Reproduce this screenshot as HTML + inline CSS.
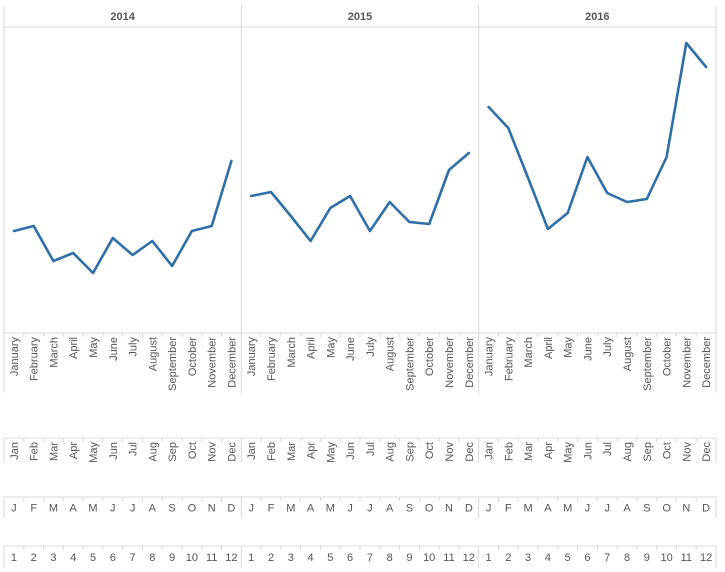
<!DOCTYPE html>
<html><head><meta charset="utf-8"><style>
html,body{margin:0;padding:0;background:#fff;}
svg{display:block;font-family:"Liberation Sans",Arial,sans-serif;}
</style></head><body>
<svg id="c" width="725" height="572"></svg>
<script>
const years = ["2014","2015","2016"];
const monthsLong = ["January","February","March","April","May","June","July","August","September","October","November","December"];
const monthsShort = ["Jan","Feb","Mar","Apr","May","Jun","Jul","Aug","Sep","Oct","Nov","Dec"];
const monthsLetter = ["J","F","M","A","M","J","J","A","S","O","N","D"];
const monthsNum = ["1","2","3","4","5","6","7","8","9","10","11","12"];
const values2014 = [102,107,72,80,60,95,78,92,67,102,107,172];
const values2015 = [137,141,117,92,125,137,102,131,111,109,163,180];
const values2016 = [226,205,155,104,120,176,140,131,134,176,290,266];
const seriesValues = [values2014, values2015, values2016];

const NS="http://www.w3.org/2000/svg";
const svg=document.getElementById('c');
function mk(tag,attrs,parent){const e=document.createElementNS(NS,tag);for(const k in attrs)e.setAttribute(k,attrs[k]);(parent||svg).appendChild(e);return e;}
const left=4,right=716,panelW=(right-left)/3,slot=panelW/12;
const plotTop=27,plotBot=333,yMax=306;
function xPos(p,i){return left+p*panelW+slot*(i+0.5);}
function yPos(v){return plotBot-(v/yMax)*(plotBot-plotTop);}
const grid="#d9d9d9";

// header line
let l=mk('line',{x1:left,x2:right,y1:27,y2:27,stroke:grid});

// panel borders
for(let p=0;p<=3;p++){
  const x=left+p*panelW;
  const b=mk('line',{x1:x,x2:x,y1:5,y2:333,stroke:grid});
  
  
}
years.forEach((yr,p)=>{
  const t=mk('text',{x:left+p*panelW+panelW/2,y:20,'text-anchor':'middle','font-size':11,'font-weight':'bold',fill:'#555'});
  t.textContent=yr;
  
  
  const pts=seriesValues[p].map((v,i)=>xPos(p,i).toFixed(1)+','+yPos(v).toFixed(1)).join(' ');
  const pl=mk('polyline',{points:pts,fill:'none',stroke:'#2f6fa8','stroke-width':2.6,'stroke-linejoin':'round','stroke-linecap':'round'});
  
  
});

// label rows
const rows=[
  {labels:monthsLong,top:333,bot:393,rot:true,name:'month-full-row'},
  {labels:monthsShort,top:438,bot:463,rot:true,name:'month-abbr-row'},
  {labels:monthsLetter,top:497,bot:518,rot:false,name:'month-letter-row'},
  {labels:monthsNum,top:546,bot:568,rot:false,name:'month-number-row'}
];
rows.forEach(r=>{
  const g=mk('g',{});
  
  
  mk('line',{x1:left,x2:right,y1:r.top,y2:r.top,stroke:grid},g);
  for(let p=0;p<=3;p++){const x=left+p*panelW;mk('line',{x1:x,x2:x,y1:r.top,y2:r.bot,stroke:grid},g);}
  for(let p=0;p<3;p++){
    for(let i=1;i<12;i++){const x=left+p*panelW+slot*i;mk('line',{x1:x,x2:x,y1:r.top,y2:r.top+4,stroke:grid},g);}
    r.labels.forEach((lab,i)=>{
      const x=xPos(p,i);let t;
      if(r.rot){
        t=mk('text',{transform:`translate(${(x+4).toFixed(1)},${r.top+4}) rotate(-90)`,'text-anchor':'end','font-size':11,fill:'#555'},g);
      }else{
        t=mk('text',{x:x.toFixed(1),y:(r.top+r.bot)/2+4,'text-anchor':'middle','font-size':11,fill:'#555'},g);
      }
      t.textContent=lab;
      
      
    });
  }
});
</script>
</body></html>
